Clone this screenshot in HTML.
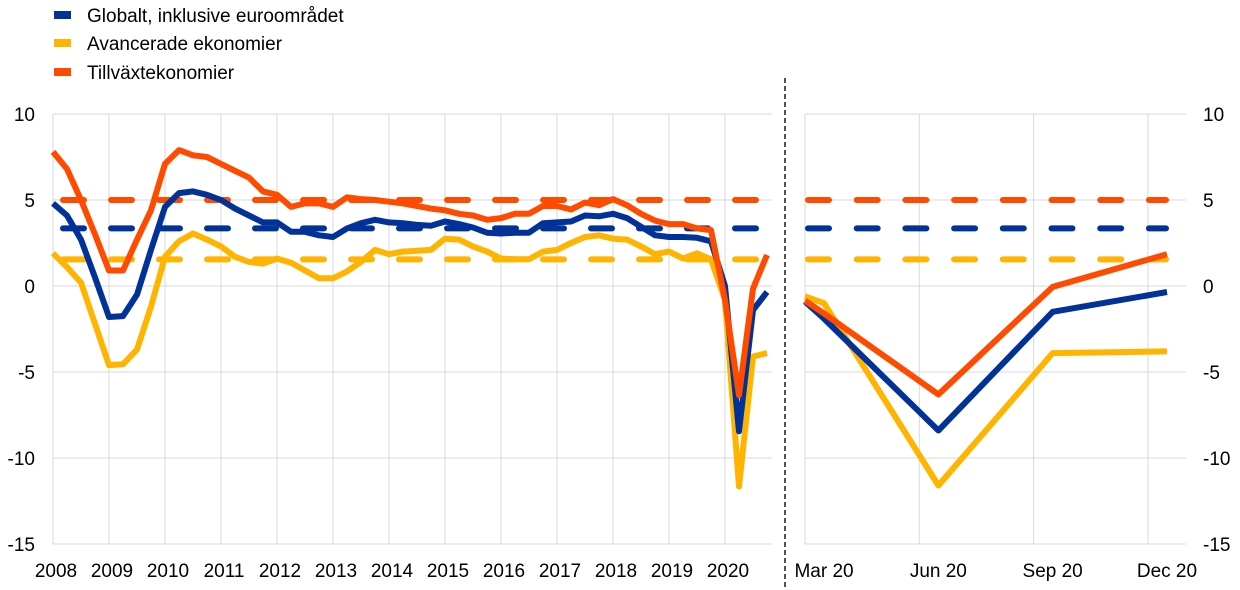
<!DOCTYPE html>
<html><head><meta charset="utf-8"><style>
body{margin:0;background:#fff;}
svg{display:block;font-family:"Liberation Sans",Arial,sans-serif;}
</style></head><body>
<svg id="chart" width="1240" height="590" viewBox="0 0 1240 590" xmlns="http://www.w3.org/2000/svg">
<g id="legend">
 <g><rect x="54" y="11" width="17" height="8" fill="#003299"/><text x="87" y="22" font-size="19">Globalt, inklusive euroområdet</text></g>
 <g><rect x="54" y="39" width="17" height="8" fill="#ffb400"/><text x="87" y="50" font-size="19">Avancerade ekonomier</text></g>
 <g><rect x="54" y="68" width="17" height="8" fill="#ff4b00"/><text x="87" y="79" font-size="19">Tillväxtekonomier</text></g>
</g>
<line x1="785" y1="78" x2="785" y2="590" stroke="#555" stroke-width="2" stroke-dasharray="5 3"/>
<g id="grid"></g><g id="axes"></g><g id="series"></g>
</svg>
<script>
const yTicks=[10,5,0,-5,-10,-15];
const yearLabels=["2008","2009","2010","2011","2012","2013","2014","2015","2016","2017","2018","2019","2020"];
const monthLabels=["Mar 20","Jun 20","Sep 20","Dec 20"];
const globalQ=[4.8,4.1,2.7,0.5,-1.8,-1.75,-0.5,2.1,4.6,5.4,5.5,5.3,5.0,4.5,4.1,3.7,3.7,3.15,3.15,2.95,2.85,3.35,3.65,3.85,3.7,3.65,3.55,3.5,3.75,3.6,3.4,3.1,3.05,3.1,3.1,3.65,3.7,3.75,4.1,4.05,4.2,3.95,3.45,2.95,2.85,2.85,2.8,2.6,0,-8.45,-1.4,-0.35];
const advancedQ=[1.9,1.1,0.2,-2.2,-4.6,-4.55,-3.7,-1.2,1.7,2.6,3.05,2.7,2.3,1.7,1.4,1.3,1.6,1.35,0.9,0.45,0.45,0.85,1.4,2.1,1.85,2.0,2.05,2.1,2.75,2.7,2.3,2.0,1.6,1.55,1.55,2.0,2.1,2.5,2.85,2.95,2.75,2.7,2.3,1.85,2.0,1.6,1.9,1.55,-0.8,-11.65,-4.1,-3.9];
const emergingQ=[7.8,6.8,5.0,3.0,0.9,0.9,2.7,4.4,7.1,7.9,7.6,7.5,7.1,6.7,6.3,5.5,5.3,4.6,4.8,4.8,4.6,5.15,5.05,5.0,4.9,4.8,4.65,4.5,4.4,4.2,4.1,3.85,3.95,4.2,4.2,4.65,4.65,4.45,4.85,4.7,5.05,4.7,4.2,3.8,3.6,3.6,3.35,3.25,-0.8,-6.35,-0.15,1.8];
const monthPos=[0,0.5,3.5,6.5,9.5];
const globalM=[-0.9,-1.9,-8.4,-1.5,-0.35];
const advancedM=[-0.6,-1.0,-11.6,-3.9,-3.8];
const emergingM=[-0.85,-1.6,-6.3,-0.05,1.85];
const avgGlobal=3.35, avgAdvanced=1.55, avgEmerging=5.0;

const NS="http://www.w3.org/2000/svg";
const y=v=>286-v*17.2;
const xL=q=>53+q*14;          // quarter index
const xR=m=>805+m*38.1;       // months since start of March
function el(tag,attrs,parent,txt){const e=document.createElementNS(NS,tag);for(const k in attrs)e.setAttribute(k,attrs[k]);if(txt!==undefined)e.textContent=txt;parent.appendChild(e);return e;}
const grid=document.getElementById('grid'),axes=document.getElementById('axes'),ser=document.getElementById('series');
const gc="#d9d9d9";
yTicks.forEach(t=>{
 let l=el('line',{x1:53,x2:772,y1:y(t),y2:y(t),stroke:gc,'stroke-width':1},grid);
 
 
 let r=el('line',{x1:805,x2:1186,y1:y(t),y2:y(t),stroke:gc,'stroke-width':1},grid);
 
 
 let a=el('text',{x:35,y:y(t)+7,'font-size':19,'text-anchor':'end'},axes,String(t));
 
 
 let b=el('text',{x:1203,y:y(t)+7,'font-size':19},axes,String(t));
 
 
});
yearLabels.forEach((lab,i)=>{
 let l=el('line',{x1:xL(i*4),x2:xL(i*4),y1:y(10),y2:y(-15),stroke:gc,'stroke-width':1},grid);
 
 
 let t=el('text',{x:xL(i*4)+3,y:577,'font-size':19,'text-anchor':'middle'},axes,lab);
 
 
});
monthLabels.forEach((lab,i)=>{
 let l=el('line',{x1:xR(i*3),x2:xR(i*3),y1:y(10),y2:y(-15),stroke:gc,'stroke-width':1},grid);
 
 
 let t=el('text',{x:xR(i*3+0.5),y:577,'font-size':19,'text-anchor':'middle'},axes,lab);
 
 
});
function avgLine(v,c,name){
 let a=el('line',{x1:63,x2:771,y1:y(v),y2:y(v),stroke:c,'stroke-width':6,'stroke-linecap':'round','stroke-dasharray':'21 27'},ser);
 
 
 let b=el('line',{x1:808,x2:1166,y1:y(v),y2:y(v),stroke:c,'stroke-width':6,'stroke-linecap':'round','stroke-dasharray':'21 27.7'},ser);
 
 
}
avgLine(avgEmerging,"#ff4b00","emerging");
avgLine(avgGlobal,"#003299","global");
avgLine(avgAdvanced,"#ffb400","advanced");
function line(vals,xf,xs,c,name){
 const pts=vals.map((v,i)=>xf(xs?xs[i]:i).toFixed(1)+","+y(v).toFixed(1)).join(" ");
 let p=el('polyline',{points:pts,fill:'none',stroke:c,'stroke-width':6,'stroke-linejoin':'round'},ser);
 
 
}
line(advancedQ,xL,null,"#ffb400","advanced-quarterly-line");
line(globalQ,xL,null,"#003299","global-quarterly-line");
line(emergingQ,xL,null,"#ff4b00","emerging-quarterly-line");
line(advancedM,xR,monthPos,"#ffb400","advanced-monthly-line");
line(globalM,xR,monthPos,"#003299","global-monthly-line");
line(emergingM,xR,monthPos,"#ff4b00","emerging-monthly-line");
</script>
</body></html>
